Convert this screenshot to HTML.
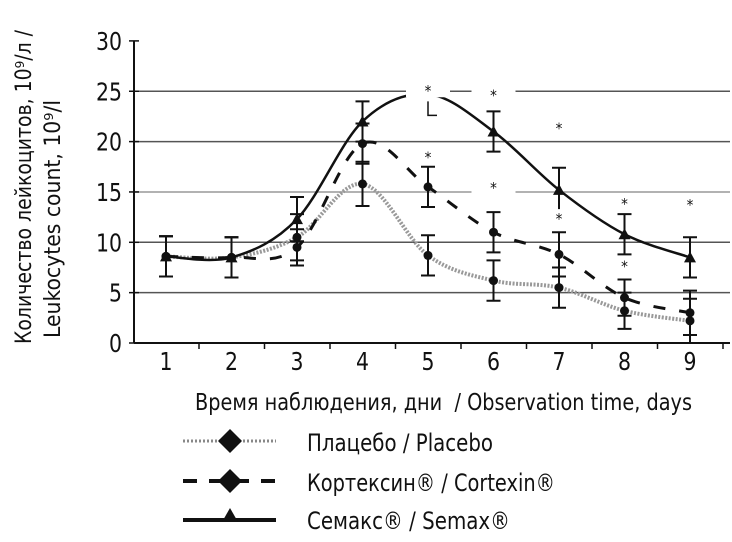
<!DOCTYPE html>
<html><head><meta charset="utf-8">
<style>
html,body{margin:0;padding:0;background:#fff;}
svg{display:block;}
text{font-family:"DejaVu Sans Condensed","Liberation Sans",sans-serif;fill:#111;}
</style></head>
<body>
<svg id="chart" width="732" height="542" viewBox="0 0 732 542">
<g id="grid"></g>
<g id="series"></g>
<g id="marks"></g>
<g id="axes"></g>
<text x="0" y="0" font-size="22" textLength="314" lengthAdjust="spacingAndGlyphs" transform="translate(31,344) rotate(-90)">Количество лейкоцитов, 10⁹/л /</text>
<text x="0" y="0" font-size="22" textLength="238" lengthAdjust="spacingAndGlyphs" transform="translate(60,338) rotate(-90)">Leukocytes count, 10⁹/l</text>
<text x="195" y="410" font-size="23" textLength="497" lengthAdjust="spacingAndGlyphs">Время наблюдения, дни &#160;/ Observation time, days</text>
<g>
 <g>
  <line x1="183" y1="441" x2="276" y2="441" stroke="#888" stroke-width="3" stroke-dasharray="2 2"/>
  <path d="M230 429 L242 441 L230 453 L218 441Z" fill="#111"/>
  <text x="307" y="451" font-size="24" textLength="186" lengthAdjust="spacingAndGlyphs">Плацебо / Placebo</text>
 </g>
 <g>
  <line x1="183" y1="481" x2="276" y2="481" stroke="#111" stroke-width="4" stroke-dasharray="14 12"/>
  <path d="M230 469 L242 481 L230 493 L218 481Z" fill="#111"/>
  <text x="307" y="491" font-size="24" textLength="248" lengthAdjust="spacingAndGlyphs">Кортексин® / Cortexin®</text>
 </g>
 <g>
  <line x1="183" y1="520" x2="276" y2="520" stroke="#111" stroke-width="4"/>
  <path d="M230 508 L238 522 L222 522Z" fill="#111"/>
  <text x="307" y="529" font-size="24" textLength="203" lengthAdjust="spacingAndGlyphs">Семакс® / Semax®</text>
 </g>
</g>
</svg>
<script>
const days = [1,2,3,4,5,6,7,8,9];
const yTicks = [0,5,10,15,20,25,30];
const placebo = [8.6,8.5,10.5,15.8,8.7,6.2,5.5,3.2,2.2];
const placeboErr = [2,2,2.3,2.2,2,2,2,1.8,2.2];
const cortexin = [8.6,8.5,9.5,19.8,15.5,11,8.8,4.5,3];
const cortexinErr = [2,2,1.8,2,2,2,2.2,1.8,2.2];
const semax = [8.6,8.5,12.3,22,24.7,21,15.2,10.8,8.5];
const semaxErr = [2,2,2.2,2,2,2,2.2,2,2];
const starDays = [5,6,7,5,6,7,8,9,8];
const starVals = [25.2,24.8,21.5,18.6,15.6,12.5,14,13.9,7.8];

const NS="http://www.w3.org/2000/svg";
const X=d=>166+(d-1)*65.5;
const Y=v=>343-v*10.07;
function mk(tag,attrs,parent){const e=document.createElementNS(NS,tag);for(const k in attrs)e.setAttribute(k,attrs[k]);parent.appendChild(e);return e;}
const grid=document.getElementById('grid'),axes=document.getElementById('axes'),ser=document.getElementById('series'),marks=document.getElementById('marks');

yTicks.forEach(t=>{
  if(t>0&&t<30){const l=mk('line',{x1:134,x2:730,y1:Y(t),y2:Y(t),stroke:t==15?'#999':'#555','stroke-width':1.5},grid);
  
  }
  mk('line',{x1:129,x2:139,y1:Y(t),y2:Y(t),stroke:'#111','stroke-width':1.5},axes);
  const s=String(t);
  const tx=mk('text',{x:122,y:Y(t)+9,'font-size':25,'text-anchor':'end',textLength:13*s.length,lengthAdjust:'spacingAndGlyphs'},axes);tx.textContent=s;
  
  
});
mk('line',{x1:134,x2:134,y1:Y(30),y2:Y(0),stroke:'#111','stroke-width':2},axes);
mk('line',{x1:134,x2:730,y1:Y(0),y2:Y(0),stroke:'#111','stroke-width':2},axes);
days.forEach((d,i)=>{
  mk('line',{x1:X(d)+33,x2:X(d)+33,y1:Y(0),y2:Y(0)+6,stroke:'#111','stroke-width':1.5},axes);
  const tx=mk('text',{x:X(d),y:Y(0)+27,'font-size':25,'text-anchor':'middle',textLength:13,lengthAdjust:'spacingAndGlyphs'},axes);tx.textContent=d;
  
  
});
function curve(vals){
  const p=vals.map((v,i)=>[X(days[i]),Y(v)]);let d='M'+p[0][0]+' '+p[0][1];
  for(let i=0;i<p.length-1;i++){const p0=p[Math.max(i-1,0)],p1=p[i],p2=p[i+1],p3=p[Math.min(i+2,p.length-1)];
    d+=` C${p1[0]+(p2[0]-p0[0])/6} ${p1[1]+(p2[1]-p0[1])/6} ${p2[0]-(p3[0]-p1[0])/6} ${p2[1]-(p3[1]-p1[1])/6} ${p2[0]} ${p2[1]}`;}
  return d;}
function series(name,vals,errs,style,marker){
  const g=mk('g',{},ser);
  
  
  mk('path',Object.assign({d:curve(vals),fill:'none'},style),g);
  vals.forEach((v,i)=>{
    if(name==='semax'&&i===4)return;
    const x=X(days[i]);
    mk('path',{d:`M${x} ${Y(v+errs[i])}V${Y(v-errs[i])}M${x-7} ${Y(v+errs[i])}h14M${x-7} ${Y(v-errs[i])}h14`,stroke:'#111','stroke-width':2,fill:'none'},g);
    const m=marker==='tri'?mk('path',{d:`M${x} ${Y(v)-6}L${x+6} ${Y(v)+5}L${x-6} ${Y(v)+5}Z`,fill:'#111'},g):mk('circle',{cx:x,cy:Y(v),r:4.5,fill:'#111'},g);
    
    
  });
}
series('placebo',placebo,placeboErr,{stroke:'#999','stroke-width':4,'stroke-dasharray':'2 1.5'},'dot');
series('cortexin',cortexin,cortexinErr,{stroke:'#111','stroke-width':3,'stroke-dasharray':'12 14'},'dot');
series('semax',semax,semaxErr,{stroke:'#111','stroke-width':2.5},'tri');
starDays.forEach((d,i)=>{
  const x=X(d),y=Y(starVals[i]);
  mk('rect',{x:x-22,y:y-8,width:44,height:16,fill:'#fff'},marks);
  const s=mk('text',{x:x,y:y+7,'font-size':15,'text-anchor':'middle',fill:'#444'},marks);s.textContent='*';
  
  
});
mk('path',{d:`M${X(5)} ${Y(24)}V${Y(22.6)}h9`,stroke:'#111','stroke-width':1.5,fill:'none'},marks);
</script>
</body></html>
